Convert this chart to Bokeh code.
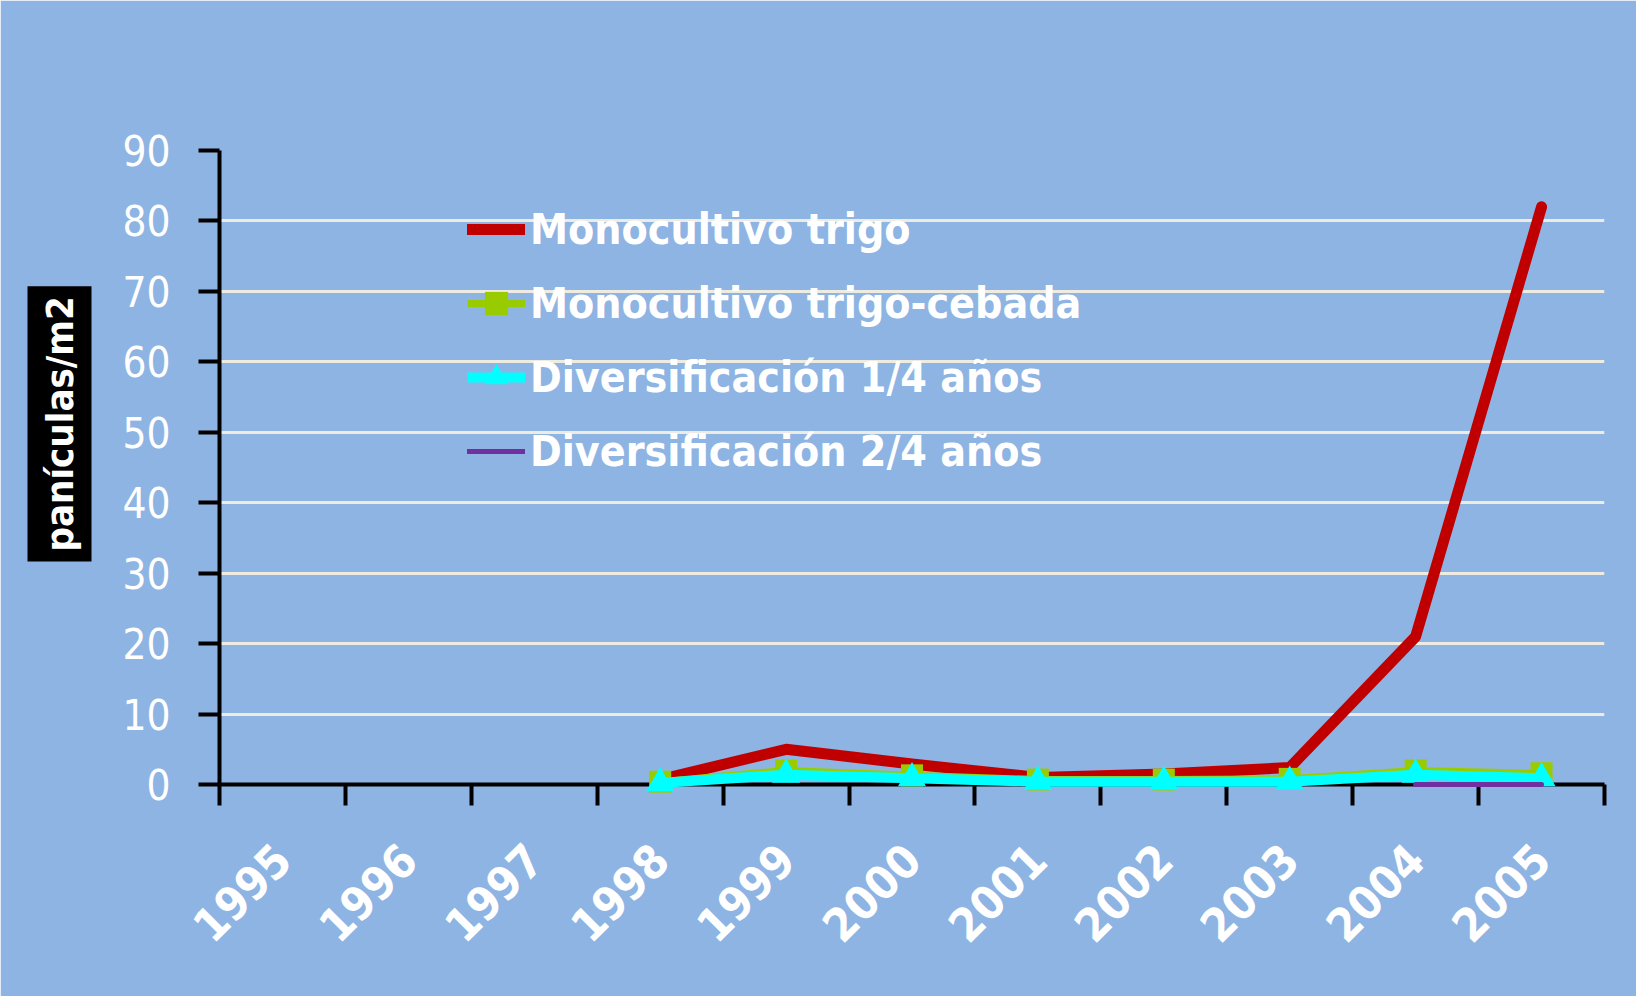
import math
from bokeh.plotting import figure
from bokeh.models import Range1d, FixedTicker, Legend, LegendItem, Title
from bokeh.embed import file_html
from bokeh.resources import INLINE

nan = float("nan")

years = [1995, 1996, 1997, 1998, 1999, 2000, 2001, 2002, 2003, 2004, 2005]
monocultivo_trigo = [nan, nan, nan, 0.7, 5.0, 2.9, 1.0, 1.5, 2.4, 21.0, 82.0]
monocultivo_trigo_cebada = [nan, nan, nan, 0.4, 2.0, 1.3, 0.7, 0.7, 0.8, 2.0, 1.6]
diversificacion_1_4 = [nan, nan, nan, 0.2, 1.4, 0.9, 0.4, 0.4, 0.4, 1.4, 0.9]
diversificacion_2_4 = [nan, nan, nan, nan, nan, nan, nan, nan, nan, 0.0, 0.0]
series_names = ["Monocultivo trigo", "Monocultivo trigo-cebada",
                "Diversificación 1/4 años", "Diversificación 2/4 años"]
y_ticks = [0, 10, 20, 30, 40, 50, 60, 70, 80, 90]
y_label = "panículas/m2"

BG = "#8EB4E3"
FONT = "DejaVu Sans Condensed, Noto Sans Condensed, Roboto Condensed, Liberation Sans"

p = figure(width=1636, height=996, output_backend="svg", toolbar_location=None,
           x_range=Range1d(1994.5, 2005.5), y_range=Range1d(0, 90),
           min_border_left=219, min_border_right=32, min_border_top=150,
           min_border_bottom=212, background_fill_color=BG,
           border_fill_color=BG, outline_line_color=BG, outline_line_width=1)

# x axis: labels at year centres, tick marks between years
p.xaxis.ticker = FixedTicker(ticks=years,
                             minor_ticks=[y - 0.5 for y in years] + [years[-1] + 0.5])
p.xaxis.major_tick_line_color = None
p.xaxis.major_tick_out = 0
p.xaxis.major_tick_in = 0
p.xaxis.minor_tick_line_color = "black"
p.xaxis.minor_tick_line_width = 4
p.xaxis.minor_tick_out = 21
p.xaxis.minor_tick_in = 0
p.xaxis.axis_line_width = 4
p.xaxis.axis_line_color = "black"
p.xaxis.major_label_orientation = math.pi / 4
p.xaxis.major_label_standoff = 46
p.xaxis.major_label_text_font = FONT
p.xaxis.major_label_text_font_style = "bold"
p.xaxis.major_label_text_font_size = "46px"
p.xaxis.major_label_text_color = "white"

# y axis
p.yaxis.ticker = FixedTicker(ticks=y_ticks)
p.yaxis.major_tick_out = 21
p.yaxis.major_tick_in = 0
p.yaxis.major_tick_line_width = 4
p.yaxis.major_tick_line_color = "black"
p.yaxis.minor_tick_line_color = None
p.yaxis.axis_line_width = 4
p.yaxis.axis_line_color = "black"
p.yaxis.major_label_standoff = 28
p.yaxis.major_label_text_font = FONT
p.yaxis.major_label_text_font_size = "42px"
p.yaxis.major_label_text_color = "white"

p.xgrid.grid_line_color = None
p.ygrid.grid_line_color = "#EEECE1"
p.ygrid.grid_line_width = 3

r_red = p.line(years, monocultivo_trigo, line_color="#C00000", line_width=11,
               line_join="round", line_cap="round", level="overlay")
g_line = p.line(years, monocultivo_trigo_cebada, line_color="#99CC00", line_width=7,
                level="overlay")
g_pts = p.scatter(years, monocultivo_trigo_cebada, marker="square", size=22,
                  fill_color="#99CC00", line_color=None, level="overlay")
c_line = p.line(years, diversificacion_1_4, line_color="#00FFFF", line_width=10,
                level="overlay")
c_pts = p.scatter(years, diversificacion_1_4, marker="triangle", size=28,
                  fill_color="#00FFFF", line_color=None, level="overlay")
v_line = p.line(years, diversificacion_2_4, line_color="#7030A0", line_width=5,
                line_cap="round", level="overlay")

legend = Legend(items=[
    LegendItem(label=series_names[0], renderers=[r_red]),
    LegendItem(label=series_names[1], renderers=[g_line, g_pts]),
    LegendItem(label=series_names[2], renderers=[c_line, c_pts]),
    LegendItem(label=series_names[3], renderers=[v_line]),
], location=(248, 296))
legend.background_fill_alpha = 0
legend.border_line_alpha = 0
legend.glyph_width = 58
legend.glyph_height = 74
legend.label_height = 74
legend.spacing = 0
legend.padding = 0
legend.margin = 0
legend.label_standoff = 5
legend.label_text_font = FONT
legend.label_text_font_style = "bold"
legend.label_text_font_size = "42.5px"
legend.label_text_color = "white"
p.add_layout(legend)

ylab = Title(text=y_label, align="left", vertical_align="top", offset=223,
             standoff=52, text_font=FONT, text_font_style="bold",
             text_font_size="38px", text_color="white",
             background_fill_color="black", padding=10)
p.add_layout(ylab, "left")

open("out.html", "w").write(file_html(p, INLINE))
